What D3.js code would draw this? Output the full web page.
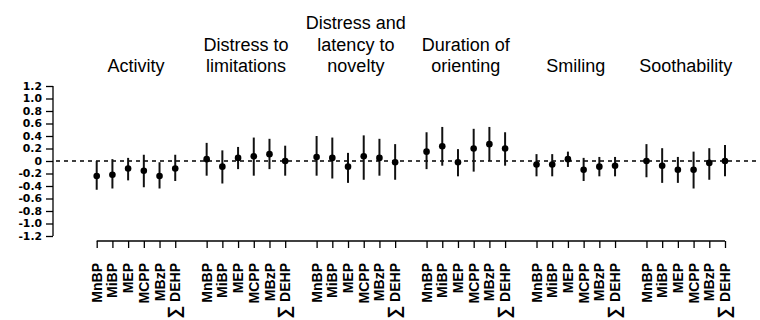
<!DOCTYPE html>
<html>
<head>
<meta charset="utf-8">
<script src="https://cdn.jsdelivr.net/npm/d3@7"></script>
<style>
    body { margin: 0; background: #fff; }
    svg { display: block; font-family: "Liberation Sans", Arial, sans-serif; }
</style>
</head>
<body>
<script>
const width = 760,
    height = 320;

// outcomes (panel titles, one line per entry)
const outcomes = [
    ['Activity'],
    ['Distress to', 'limitations'],
    ['Distress and', 'latency to', 'novelty'],
    ['Duration of', 'orienting'],
    ['Smiling'],
    ['Soothability']
];

const compounds = ['MnBP', 'MiBP', 'MEP', 'MCPP', 'MBzP', 'DEHP'];

// point estimates per outcome
const estimate = [
    [-0.24, -0.22, -0.12, -0.155, -0.24, -0.12],
    [0.03, -0.09, 0.05, 0.075, 0.11, 0.00],
    [0.065, 0.05, -0.09, 0.075, 0.05, -0.02],
    [0.15, 0.235, -0.02, 0.20, 0.27, 0.20],
    [-0.055, -0.055, 0.03, -0.14, -0.09, -0.075],
    [0.00, -0.075, -0.14, -0.14, -0.03, 0.00]
];

// lower confidence limits
const lower = [
    [-0.46, -0.44, -0.31, -0.42, -0.44, -0.32],
    [-0.235, -0.36, -0.13, -0.235, -0.13, -0.235],
    [-0.235, -0.28, -0.35, -0.30, -0.235, -0.30],
    [-0.13, -0.075, -0.245, -0.17, 0.00, -0.075],
    [-0.245, -0.245, -0.095, -0.32, -0.245, -0.245],
    [-0.26, -0.35, -0.35, -0.44, -0.30, -0.245]
];

// upper confidence limits
const upper = [
    [0.00, 0.03, 0.05, 0.10, -0.02, 0.10],
    [0.29, 0.17, 0.225, 0.375, 0.355, 0.245],
    [0.40, 0.375, 0.13, 0.41, 0.355, 0.27],
    [0.46, 0.545, 0.19, 0.515, 0.545, 0.46],
    [0.11, 0.11, 0.15, 0.05, 0.065, 0.065],
    [0.27, 0.205, 0.065, 0.15, 0.205, 0.255]
];

const y_ticks = [1.2, 1.0, 0.8, 0.6, 0.4, 0.2, 0, -0.2, -0.4, -0.6, -0.8, -1.0, -1.2];

// flatten into one row per point; groups sit 7 units apart
let points = [];
outcomes.forEach(function (o, g) {
    compounds.forEach(function (c, i) {
        points.push({
            pos: g * 7 + i + 1,
            group: g,
            compound: c,
            est: estimate[g][i],
            lo: lower[g][i],
            hi: upper[g][i]
        });
    });
});

const x = d3.scaleLinear().domain([1, 41]).range([96.7, 725]);
const y = d3.scaleLinear().domain([-1.2, 1.2]).range([236, 86]);

const svg = d3.select('body')
    .append('svg')
    .attr('width', width)
    .attr('height', height);

// zero reference line
svg.append('line')
    .attr('x1', 56)
    .attr('x2', width)
    .attr('y1', y(0))
    .attr('y2', y(0))
    .attr('stroke', '#000')
    .attr('stroke-width', 1.5)
    .attr('stroke-dasharray', '4,4');

// y axis, R style: line only spans the ticks
const y_axis = svg.append('g')
    .attr('transform', 'translate(53,0)')
    .call(d3.axisLeft(y)
        .tickValues(y_ticks)
        .tickSize(7)
        .tickPadding(4)
        .tickFormat(d => d === 0 ? '0' : d3.format('.1f')(d).replace('−', '-')));
y_axis.select('.domain').attr('d', 'M0,' + y(1.2) + 'V' + y(-1.2)).attr('stroke-width', 1.3);
y_axis.selectAll('.tick line').attr('stroke-width', 1.3);
y_axis.selectAll('.tick text')
    .attr('font-family', '"DejaVu Sans", sans-serif')
    .attr('font-size', 10.8)
    .attr('font-weight', 'bold')
    .attr('fill', '#000');

// x axis
const axis_y = 241;
const x_axis = svg.append('g')
    .attr('transform', 'translate(0,' + axis_y + ')')
    .call(d3.axisBottom(x)
        .tickValues(points.map(p => p.pos))
        .tickSize(7)
        .tickFormat(''));
x_axis.select('.domain').attr('d', 'M' + x(1) + ',0H' + x(41)).attr('stroke-width', 1.3);
x_axis.selectAll('.tick line').attr('stroke-width', 1.3);

// rotated compound labels
const labels = svg.append('g')
    .selectAll('text')
    .data(points)
    .enter().append('text')
    .attr('transform', d => 'translate(' + x(d.pos) + ',263) rotate(-90)')
    .attr('text-anchor', 'end')
    .attr('dy', '0.36em')
    .attr('font-size', 14)
    .attr('font-weight', 'bold')
    .attr('fill', '#000');

labels.each(function (d) {
    const t = d3.select(this);
    if (d.compound === 'DEHP') {
        t.append('tspan').attr('font-size', 18).text('\u2211');
        t.append('tspan').text(' DEHP');
    } else {
        t.text(d.compound);
    }
});

// titles over each group
const titles = svg.append('g')
    .selectAll('text')
    .data(outcomes)
    .enter().append('text')
    .attr('text-anchor', 'middle')
    .attr('font-size', 18)
    .attr('fill', '#000');

titles.each(function (lines, g) {
    const cx = (x(g * 7 + 1) + x(g * 7 + 6)) / 2;
    d3.select(this).selectAll('tspan')
        .data(lines)
        .enter().append('tspan')
        .attr('x', cx)
        .attr('y', (l, k) => 72 - (lines.length - 1 - k) * 21.5)
        .text(l => l);
});

// confidence intervals
svg.append('g')
    .selectAll('line')
    .data(points)
    .enter().append('line')
    .attr('x1', d => x(d.pos))
    .attr('x2', d => x(d.pos))
    .attr('y1', d => y(d.lo))
    .attr('y2', d => y(d.hi))
    .attr('stroke', '#111')
    .attr('stroke-width', 2);

// point estimates
svg.append('g')
    .selectAll('circle')
    .data(points)
    .enter().append('circle')
    .attr('cx', d => x(d.pos))
    .attr('cy', d => y(d.est))
    .attr('r', 3.3)
    .attr('fill', '#000');
</script>
</body>
</html>
